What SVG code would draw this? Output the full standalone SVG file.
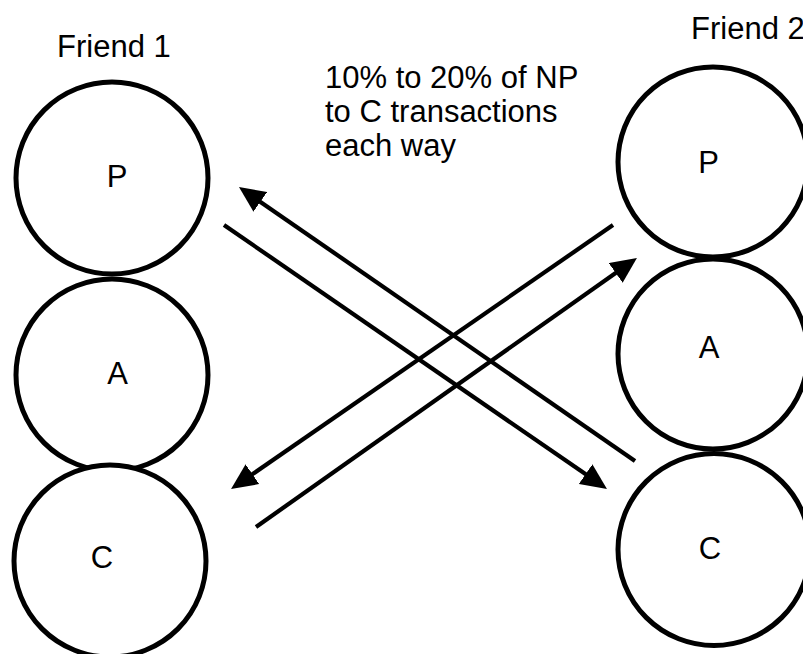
<svg xmlns="http://www.w3.org/2000/svg" width="803" height="654" viewBox="0 0 803 654">
  <style>
    .ring { fill: #ffffff; stroke: #000000; stroke-width: 5; }
    .lbl { font-family: "Liberation Sans", Arial, Helvetica, sans-serif; font-size: 31px; fill: #000000; }
    .mid { text-anchor: middle; }
    .flow { fill: none; stroke: #000000; stroke-width: 4.2; }
  </style>
  <defs>
    <marker id="head" markerUnits="userSpaceOnUse" markerWidth="26" markerHeight="24" refX="6" refY="12" orient="auto">
      <path d="M0,0 L26,12 L0,24 z" fill="#000000"/>
    </marker>
  </defs>
  <rect width="803" height="654" fill="#ffffff"/>

  <!-- Friend 1 column -->
  <g id="friend1-title"><text class="lbl" x="57" y="57">Friend 1</text></g>
  <g id="f1-P"><circle class="ring" cx="112" cy="178" r="96"/><text class="lbl mid" x="117" y="187">P</text></g>
  <g id="f1-A"><circle class="ring" cx="112" cy="375" r="96"/><text class="lbl mid" x="117.5" y="384">A</text></g>
  <g id="f1-C"><circle class="ring" cx="110" cy="561" r="96"/><text class="lbl mid" x="102" y="568">C</text></g>

  <!-- Friend 2 column -->
  <g id="friend2-title"><text class="lbl" x="691" y="39">Friend 2</text></g>
  <g id="f2-P"><circle class="ring" cx="713" cy="162" r="95"/><text class="lbl mid" x="708.5" y="173">P</text></g>
  <g id="f2-A"><circle class="ring" cx="713" cy="354" r="95"/><text class="lbl mid" x="709" y="358">A</text></g>
  <g id="f2-C"><circle class="ring" cx="714" cy="549.5" r="96"/><text class="lbl mid" x="710" y="559">C</text></g>

  <!-- note -->
  <g id="note">
    <text class="lbl" x="325" y="88">10% to 20% of NP</text>
    <text class="lbl" x="325" y="122">to C transactions</text>
    <text class="lbl" x="325" y="156">each way</text>
  </g>

  <!-- crossing transfers -->
  <g id="connectors">
    <line class="flow" x1="224" y1="225" x2="590.5" y2="477.6" marker-end="url(#head)"/>
    <line class="flow" x1="635" y1="461" x2="255.4" y2="198.4" marker-end="url(#head)"/>
    <line class="flow" x1="613" y1="225" x2="247.5" y2="477.6" marker-end="url(#head)"/>
    <line class="flow" x1="256" y1="527" x2="620.6" y2="269.5" marker-end="url(#head)"/>
  </g>
</svg>
